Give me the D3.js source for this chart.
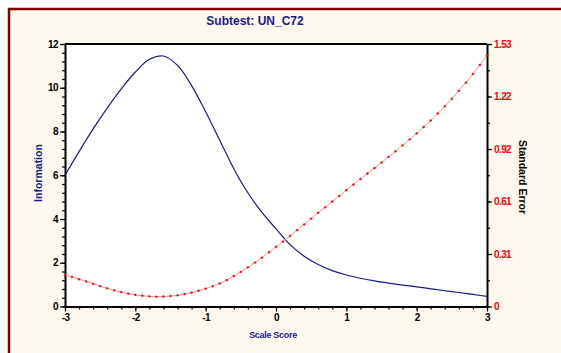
<!DOCTYPE html>
<html>
<head>
<meta charset="utf-8">
<script src="https://cdn.jsdelivr.net/npm/d3@7"></script>
<style>
  body { margin: 0; background: #fff; }
  svg { display: block; font-family: "Liberation Sans", Arial, sans-serif; }
  .axis text { font-weight: bold; font-size: 10px; letter-spacing: -0.6px; }
</style>
</head>
<body>
<div id="chart"></div>
<script>
// scale score grid (x)
const infoX = [-3.0, -2.8, -2.6, -2.4, -2.2, -2.0, -1.8, -1.6, -1.4, -1.2, -1.0, -0.8, -0.6, -0.4, -0.2,
  0.0, 0.2, 0.4, 0.6, 0.8, 1.0, 1.2, 1.4, 1.6, 1.8, 2.0, 2.2, 2.4, 2.6, 2.8, 3.0];
// test information (left axis)
const infoY = [6.0, 7.08, 8.12, 9.07, 9.95, 10.72, 11.3, 11.45, 11.02, 10.1, 8.9, 7.6, 6.3, 5.2, 4.3,
  3.55, 2.83, 2.3, 1.92, 1.64, 1.44, 1.29, 1.17, 1.07, 0.98, 0.9, 0.81, 0.72, 0.64, 0.55, 0.46];

const seX = [-3.0, -2.9, -2.8, -2.7, -2.6, -2.5, -2.4, -2.3, -2.2, -2.1, -2.0, -1.9, -1.8, -1.7, -1.6,
  -1.5, -1.4, -1.3, -1.2, -1.1, -1.0, -0.9, -0.8, -0.7, -0.6, -0.5, -0.4, -0.3, -0.2, -0.1,
  0.0, 0.1, 0.2, 0.3, 0.4, 0.5, 0.6, 0.7, 0.8, 0.9, 1.0, 1.1, 1.2, 1.3, 1.4,
  1.5, 1.6, 1.7, 1.8, 1.9, 2.0, 2.1, 2.2, 2.3, 2.4, 2.5, 2.6, 2.7, 2.8, 2.9, 3.0];
// standard error (right axis)
const seY = [0.184, 0.172, 0.159, 0.146, 0.132, 0.119, 0.106, 0.094, 0.084, 0.075, 0.068, 0.063, 0.059, 0.057, 0.058,
  0.061, 0.065, 0.072, 0.081, 0.092, 0.104, 0.118, 0.134, 0.154, 0.177, 0.202, 0.228, 0.256, 0.285, 0.316,
  0.347, 0.378, 0.411, 0.445, 0.478, 0.512, 0.546, 0.578, 0.612, 0.645, 0.678, 0.711, 0.743, 0.775, 0.807,
  0.839, 0.872, 0.905, 0.939, 0.974, 1.009, 1.046, 1.084, 1.125, 1.167, 1.211, 1.257, 1.305, 1.355, 1.408, 1.464];

const xTicks = [-3, -2, -1, 0, 1, 2, 3];
const leftTicks = [0, 2, 4, 6, 8, 10, 12];
const rightTicks = [0, 0.306, 0.612, 0.918, 1.224, 1.53];
const rightLabels = ["0", "0.31", "0.61", "0.92", "1.22", "1.53"];

const W = 561, H = 353;
const m = { left: 65, right: 487, top: 44, bottom: 306.5 };

const svg = d3.select("#chart").append("svg")
  .attr("width", W).attr("height", H);

// frame (only top/left edges are visible in the picture)
svg.append("rect")
  .attr("x", 9).attr("y", 9).attr("width", 700).attr("height", 500)
  .attr("fill", "#fdf8ed").attr("stroke", "#800000").attr("stroke-width", 2.5);

svg.append("rect")
  .attr("x", m.left).attr("y", m.top)
  .attr("width", m.right - m.left).attr("height", m.bottom - m.top)
  .attr("fill", "#fff");

const x = d3.scaleLinear().domain([-3, 3]).range([m.left, m.right]);
const yL = d3.scaleLinear().domain([0, 12]).range([m.bottom, m.top]);
const yR = d3.scaleLinear().domain([0, 1.53]).range([m.bottom, m.top]);

// minor ticks
svg.append("g").attr("class", "axis")
  .attr("transform", "translate(0," + m.bottom + ")")
  .call(d3.axisBottom(x).tickValues(d3.range(-3, 3.001, 0.2)).tickSize(3).tickFormat(""))
  .call(g => g.select(".domain").remove());
svg.append("g").attr("class", "axis")
  .attr("transform", "translate(" + m.left + ",0)")
  .call(d3.axisLeft(yL).tickValues(d3.range(0, 12.001, 0.4)).tickSize(3).tickFormat(""))
  .call(g => g.select(".domain").remove());
svg.append("g").attr("class", "axis")
  .attr("transform", "translate(" + m.right + ",0)")
  .call(d3.axisRight(yR).tickValues(d3.range(0, 1.531, 0.153)).tickSize(3).tickFormat(""))
  .call(g => g.select(".domain").remove());

// major axes
svg.append("g").attr("class", "axis")
  .attr("transform", "translate(0," + m.bottom + ")")
  .call(d3.axisBottom(x).tickValues(xTicks).tickSize(5).tickSizeOuter(0).tickPadding(2).tickFormat(d => String(d)));
svg.append("g").attr("class", "axis")
  .attr("transform", "translate(" + m.left + ",0)")
  .call(d3.axisLeft(yL).tickValues(leftTicks).tickSize(5).tickSizeOuter(0).tickPadding(2));
const gr = svg.append("g").attr("class", "axis")
  .attr("transform", "translate(" + m.right + ",0)")
  .call(d3.axisRight(yR).tickValues(rightTicks).tickSize(5).tickSizeOuter(0).tickPadding(2)
    .tickFormat((d, i) => rightLabels[i]));
gr.selectAll("text").attr("fill", "#ff0000");
svg.selectAll(".axis .domain").attr("stroke-width", 2);
svg.selectAll(".axis line").attr("stroke-width", 1.2);

// top edge of plot box
svg.append("line")
  .attr("x1", m.left).attr("x2", m.right).attr("y1", m.top).attr("y2", m.top)
  .attr("stroke", "#000").attr("stroke-width", 2);

// information curve
const infoData = infoX.map((v, i) => ({ x: v, y: infoY[i] }));
svg.append("path").datum(infoData)
  .attr("fill", "none").attr("stroke", "#1a1a8c").attr("stroke-width", 1.2)
  .attr("d", d3.line().x(d => x(d.x)).y(d => yL(d.y)).curve(d3.curveCatmullRom));

// standard error curve
const seData = seX.map((v, i) => ({ x: v, y: seY[i] }));
svg.append("path").datum(seData)
  .attr("fill", "none").attr("stroke", "#ff9090").attr("stroke-width", 1)
  .attr("d", d3.line().x(d => x(d.x)).y(d => yR(d.y)).curve(d3.curveCatmullRom));
svg.append("g").selectAll("path.mk").data(seData).join("path")
  .attr("class", "mk")
  .attr("d", d => {
    const cx = x(d.x), cy = yR(d.y);
    return "M" + (cx - 1.2) + "," + cy + "H" + (cx + 1.2) + "M" + cx + "," + (cy - 1.2) + "V" + (cy + 1.2);
  })
  .attr("stroke", "#ff0000").attr("stroke-width", 1.2);

// titles
svg.append("text").attr("x", 255).attr("y", 25).attr("text-anchor", "middle")
  .attr("font-size", 12).attr("font-weight", "bold").attr("fill", "#1a1a8c")
  .text("Subtest: UN_C72");
svg.append("text").attr("x", 273).attr("y", 338).attr("text-anchor", "middle")
  .attr("font-size", 9).attr("font-weight", "bold").attr("fill", "#1a1a8c")
  .attr("letter-spacing", -0.3)
  .text("Scale Score");
svg.append("text").attr("transform", "translate(42,173) rotate(-90)").attr("text-anchor", "middle")
  .attr("font-size", 10.5).attr("font-weight", "bold").attr("fill", "#1a1a8c")
  .text("Information");
svg.append("text").attr("transform", "translate(519,177) rotate(90)").attr("text-anchor", "middle")
  .attr("font-size", 10.5).attr("font-weight", "bold").attr("fill", "#000")
  .text("Standard Error");
</script>
</body>
</html>
